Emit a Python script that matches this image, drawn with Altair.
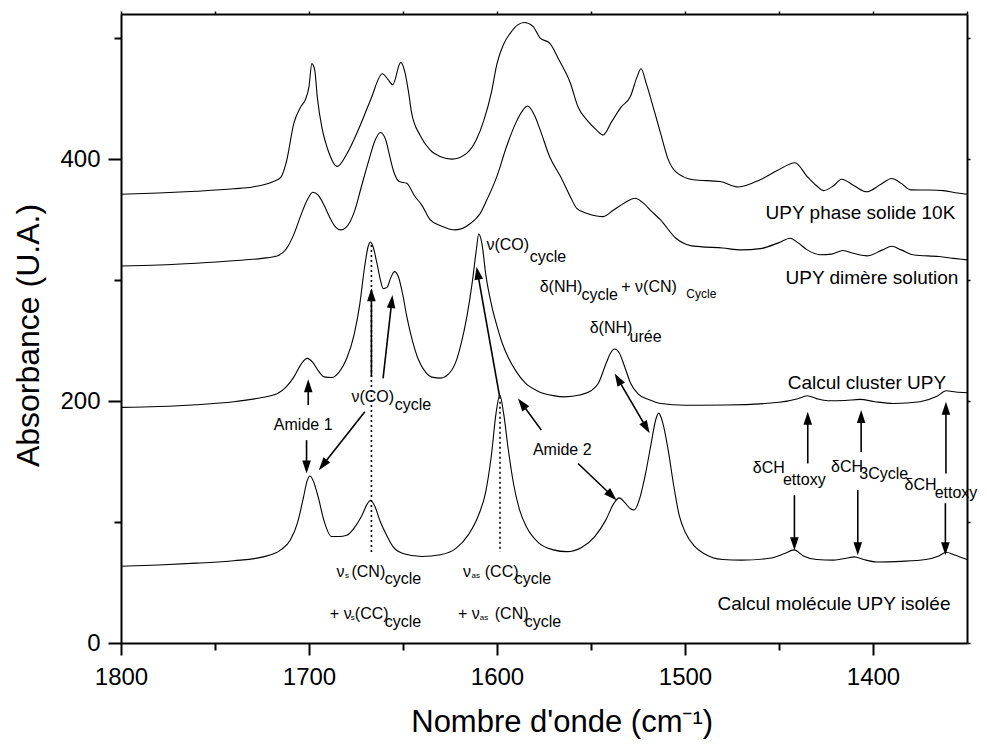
import math
import altair as alt
import pandas as pd

FONT = "Liberation Sans"
W, H = 846, 629
XMIN, XMAX, YMIN, YMAX = 1350, 1800, 0, 520
PXX = W / (XMAX - XMIN)
PXY = H / (YMAX - YMIN)

# ---------------- spectra ----------------
solid_x = [1800, 1780, 1760, 1740, 1730, 1719, 1715, 1712, 1708, 1704.5, 1702, 1700, 1698.5, 1697, 1695.5,
           1693, 1690, 1685, 1680, 1673, 1667, 1661, 1658, 1655.5, 1651.2, 1649, 1647, 1645.4, 1641, 1635.6,
           1630, 1624, 1616, 1611, 1607, 1603, 1600, 1596.5, 1593, 1589, 1585.5, 1581, 1577, 1572, 1567,
           1561, 1557, 1552, 1547, 1543.5, 1539, 1534, 1529, 1525.5, 1523.4, 1520.5, 1516, 1513, 1509, 1505,
           1495.6, 1481.4, 1471.6, 1460, 1450.4, 1441.5, 1435, 1430, 1426.4, 1421, 1416.7, 1410, 1403.4, 1396,
           1390, 1385, 1380, 1370, 1362.6, 1355, 1350]
solid_y = [371, 372, 373.5, 375.5, 377, 381.5, 385, 398, 430, 443, 449, 460, 479, 474, 450,
           425, 408, 394, 404, 427, 450, 470.6, 466, 461.5, 480, 472, 455, 438, 420, 407.6,
           402, 400, 405, 416, 432, 455, 479, 495, 504, 511, 513, 510, 500, 496, 482,
           463, 443.5, 432, 424, 420, 431, 443, 452, 468, 474.7, 462, 438, 421.5, 400, 389.7,
           383, 381.5, 377, 383, 391, 397, 385.6, 378, 374, 378, 383.4, 378, 373, 379,
           384, 380, 374.6, 374.5, 374, 372, 371]

dimer_x = [1800, 1780, 1760, 1740, 1725, 1717, 1712, 1708, 1704, 1701, 1698, 1695, 1692, 1689, 1686,
           1683, 1680, 1676, 1672, 1668, 1665, 1662, 1659, 1657, 1655, 1652, 1648, 1644, 1640, 1635.6,
           1630, 1622, 1614, 1609, 1605.5, 1600, 1595, 1590, 1586, 1583.7, 1580, 1577, 1572, 1566, 1561,
           1557.6, 1552, 1547, 1543.5, 1538, 1532, 1526.6, 1521, 1518.6, 1513, 1505, 1497, 1492, 1480, 1470,
           1460, 1450, 1444, 1440, 1435, 1428, 1422, 1416, 1410, 1403, 1395, 1390, 1385, 1378, 1365,
           1357, 1350]
dimer_y = [311.7, 312.5, 314, 316, 318, 320, 326, 338, 355, 366, 372.7, 370, 362, 352, 344,
           341.5, 344, 356, 378, 400, 415, 422, 415, 402, 390, 381.5, 380, 370, 362, 350,
           345, 341.5, 347, 355, 366, 386, 410, 430, 441, 444, 436, 424, 402, 385, 369,
           359.4, 355, 353, 352.5, 358, 364, 367.7, 362, 358, 349.8, 334.8, 328.5, 327.7, 326.5, 325,
           326, 331, 334.6, 331, 325, 321, 321.5, 324.5, 322, 320, 325, 328, 325, 320.7, 319.5,
           318, 316.7]

cluster_x = [1800, 1780, 1760, 1740, 1725, 1717, 1712, 1708, 1704, 1701, 1698, 1695, 1692, 1688, 1684,
             1680, 1676, 1673, 1670.5, 1668.5, 1667.3, 1666, 1664, 1662, 1660.5, 1658.5, 1656.5, 1654.5, 1652.5, 1650,
             1648, 1645, 1642, 1638, 1634, 1630, 1626, 1622, 1619, 1616, 1613, 1611, 1609.7, 1608, 1606,
             1603, 1600, 1597, 1594, 1590, 1585, 1578, 1570, 1564, 1556, 1550, 1546, 1542, 1539.5, 1537.5,
             1535, 1532, 1529, 1525, 1519, 1513, 1500, 1478, 1450, 1440, 1435, 1430, 1424, 1415, 1407,
             1399, 1389, 1375, 1366, 1361, 1356, 1350]
cluster_y = [194.8, 195.5, 197, 199.5, 203, 206, 212, 220, 231, 235.3, 232, 225, 220, 219.5, 224,
             235, 255, 280, 310, 328, 331.5, 328, 315, 300, 293, 294, 302, 307, 303, 287,
             270, 250, 235, 224, 219.6, 219, 222, 232, 248, 270, 300, 325, 338, 330, 305,
             280, 262, 247, 236, 225, 215, 208, 204.5, 203.5, 205, 208.5, 215, 231, 240, 243,
             240, 228, 215, 206, 201, 198, 196.5, 196.7, 199, 202, 204.4, 202, 200.3, 200.5, 201.4,
             199.5, 198, 199.5, 204, 208.5, 207.5, 206.9]

iso_x = [1800, 1780, 1760, 1740, 1725, 1715, 1710, 1706, 1703, 1701, 1699.5, 1698, 1695, 1692, 1688,
         1684, 1680, 1676, 1672, 1669, 1667.3, 1665, 1662, 1659, 1655, 1650, 1640, 1630, 1622, 1615,
         1610, 1606, 1603, 1600.5, 1598.5, 1596.5, 1594, 1591, 1588, 1584, 1578, 1570, 1563, 1555, 1548,
         1542, 1538, 1535, 1532, 1529, 1527, 1524, 1521, 1518, 1515.5, 1514, 1512, 1509, 1506, 1503,
         1500, 1495, 1490, 1480, 1470, 1455, 1447, 1442, 1437, 1430, 1421, 1413, 1410, 1405, 1398,
         1385, 1372, 1365, 1361, 1357, 1350]
iso_y = [63.5, 64.5, 66, 68, 71, 77, 85, 100, 120, 134, 138, 135, 120, 101, 88,
         88, 89, 95, 105, 115, 118, 113, 100, 90, 79, 74, 71.5, 73, 78, 90,
         105, 125, 155, 190, 205, 190, 160, 130, 110, 95, 83, 77, 75.5, 79, 88,
         102, 115, 120, 116, 111, 110, 120, 140, 165, 185, 190, 183, 160, 130, 105,
         92, 80, 74, 69, 68.5, 70, 74, 77, 72, 69, 68.5, 70.5, 71.2, 69, 67,
         67.5, 69, 72, 75, 73, 69]

series_names = ["UPY phase solide 10K", "UPY dimère solution", "Calcul cluster UPY",
                "Calcul molécule UPY isolée"]

# curve labels (right aligned)
label_text = series_names
label_x = [1356.2, 1354.6, 1361.1, 1358.8]
label_y = [355.6, 301.5, 215.1, 32.6]

# annotation text pieces (left aligned, main text and subscripts)
ann_text = ["ν(CO)", "cycle", "δ(NH)", "cycle", "+ ν(CN)", "Cycle", "δ(NH)", "urée",
            "Amide 1", "ν(CO)", "cycle", "Amide 2",
            "ν", "s", "(CN)", "cycle", "+ ν", "s", "(CC)", "cycle",
            "ν", "as", "(CC)", "cycle", "+ ν", "as", "(CN)", "cycle",
            "δCH", "ettoxy", "δCH", "3Cycle", "δCH", "ettoxy"]
ann_x = [1605.6, 1582.6, 1577.3, 1555.1, 1533.9, 1499.3, 1550.7, 1529.5,
         1718.7, 1677.4, 1654.4, 1580.9,
         1685.4, 1680.9, 1677.4, 1659.7, 1688.9, 1677.8, 1675.6, 1659.7,
         1618.1, 1613.5, 1606.5, 1590.6, 1620.7, 1609.2, 1601.2, 1585.3,
         1463.9, 1447.9, 1422.3, 1407.3, 1383.2, 1367.2]
ann_y = [329.1, 319.4, 294.6, 287.7, 294.6, 288.5, 260.2, 252.7,
         180.1, 203.6, 196.7, 159.5,
         58.75, 55.2, 58.75, 52.5, 24.3, 20.4, 24.3, 17.4,
         58.75, 55.2, 58.75, 52.5, 24.3, 20.4, 24.3, 17.4,
         144.3, 134.6, 145.6, 139.6, 130.5, 124.1]
ann_size = [16, 16, 16, 16, 16, 12, 16, 16,
            16, 16, 16, 16,
            16, 8, 16, 16, 16, 8, 16, 16,
            16, 8, 16, 16, 16, 8, 16, 16,
            16, 16, 16, 16, 16, 16]

# arrows: start -> tip (data units); double-headed flag
arr_x1 = [1700.4, 1701.3, 1670.3, 1666.8, 1660.6, 1598.6, 1576.4, 1556.9, 1537.4, 1434.7, 1441.8, 1406.3, 1408.1, 1361.2, 1361.5]
arr_y1 = [196.7, 167.7, 191.1, 220.1, 218.8, 203.6, 176.0, 148.4, 222.9, 148.4, 122.2, 158.0, 126.4, 140.2, 115.6]
arr_x2 = [1700.4, 1701.3, 1694.8, 1666.8, 1655.6, 1610.9, 1588.8, 1536.4, 1518.8, 1434.7, 1441.8, 1406.3, 1408.1, 1361.2, 1361.5]
arr_y2 = [218.0, 140.2, 142.9, 293.3, 287.7, 311.1, 202.2, 118.1, 173.3, 191.1, 76.7, 192.6, 72.6, 199.4, 72.6]
arr_double = [0, 0, 0, 0, 0, 0, 0, 0, 1, 0, 0, 0, 0, 0, 0]

# dotted vertical guides
dot_x = [1666.8, 1598.4]
dot_y1 = [329.0, 203.6]
dot_y2 = [75.3, 75.3]

# ticks
x_major = [1800, 1700, 1600, 1500, 1400]
x_minor = [1750, 1650, 1550, 1450]
x_top = [1800, 1750, 1700, 1650, 1600, 1550, 1500, 1450, 1400, 1350]
y_major = [0, 200, 400]
y_minor = [100, 300, 500]
y_right = [0, 100, 200, 300, 400, 500]

# ---------------- tables ----------------
rows = []
for name, xs_, ys_ in zip(series_names, [solid_x, dimer_x, cluster_x, iso_x], [solid_y, dimer_y, cluster_y, iso_y]):
    for a, b in zip(xs_, ys_):
        rows.append({"x": a, "y": b, "series": name})
curves_df = pd.DataFrame(rows)

HEAD_L = 13.0


def screen_dir(xa, ya, xb, yb):
    dx = -(xb - xa) * PXX
    dy = -(yb - ya) * PXY
    n = math.hypot(dx, dy)
    return dx / n, dy / n


def base_of(xt, yt, ux, uy, L):
    return xt + L * ux / PXX, yt + L * uy / PXY


shafts, heads = [], []
for x1, y1, x2, y2, d in zip(arr_x1, arr_y1, arr_x2, arr_y2, arr_double):
    ux, uy = screen_dir(x1, y1, x2, y2)
    ang = math.degrees(math.atan2(ux, -uy)) % 360
    heads.append({"x": x2, "y": y2, "angle": ang})
    ex, ey = base_of(x2, y2, ux, uy, HEAD_L * 0.8)
    sx, sy = x1, y1
    if d:
        vx, vy = -ux, -uy
        ang2 = math.degrees(math.atan2(vx, -vy)) % 360
        heads.append({"x": x1, "y": y1, "angle": ang2})
        sx, sy = base_of(x1, y1, vx, vy, HEAD_L * 0.8)
    shafts.append({"x": sx, "y": sy, "x2": ex, "y2": ey})
shaft_df = pd.DataFrame(shafts)
head_df = pd.DataFrame(heads)

dot_df = pd.DataFrame({"x": dot_x, "y": dot_y1, "y2": dot_y2})
ann_df = pd.DataFrame({"t": ann_text, "x": ann_x, "y": ann_y, "s": ann_size})
lab_df = pd.DataFrame({"t": label_text, "x": label_x, "y": label_y})

# ---------------- chart ----------------
xs = alt.Scale(domain=[XMIN, XMAX], reverse=True, nice=False, zero=False)
ys = alt.Scale(domain=[YMIN, YMAX], nice=False, zero=False)

common_axis = dict(domainColor="black", tickColor="black", labelColor="black", grid=False,
                   labelFont=FONT, titleFont=FONT, titleColor="black", titleFontWeight="normal",
                   labelFlush=False, labelOverlap=False)

x_axis_major = alt.Axis(orient="bottom", values=x_major, tickSize=12, tickWidth=2, domainWidth=2,
                        labelFontSize=24, labelPadding=10, format="d",
                        title="Nombre d'onde (cm⁻¹)", titleFontSize=31, titleX=440.7, titleY=88,
                        titleBaseline="alphabetic", titleAlign="center", **common_axis)
y_axis_major = alt.Axis(orient="left", values=y_major, tickSize=13, tickWidth=2, domainWidth=2,
                        labelFontSize=24, labelPadding=8, format="d",
                        title="Absorbance (U.A.)", titleFontSize=32, titleX=-83, titleY=321,
                        titleAngle=270, titleBaseline="alphabetic", titleAlign="center", **common_axis)
x_axis_minor = alt.Axis(orient="bottom", values=x_minor, tickSize=7, tickWidth=2, domain=False,
                        labels=False, title=None, grid=False, tickColor="black")
y_axis_minor = alt.Axis(orient="left", values=y_minor, tickSize=7, tickWidth=2, domain=False,
                        labels=False, title=None, grid=False, tickColor="black")
x_axis_top = alt.Axis(orient="top", values=x_top, tickSize=3, tickWidth=1.5, domainWidth=2,
                      domainColor="black", labels=False, title=None, grid=False, tickColor="black")
y_axis_right = alt.Axis(orient="right", values=y_right, tickSize=3, tickWidth=1.5, domainWidth=2,
                        domainColor="black", labels=False, title=None, grid=False, tickColor="black")

curves = alt.Chart(curves_df).mark_line(interpolate="monotone", color="black", strokeWidth=1.1).encode(
    x=alt.X("x:Q", scale=xs, axis=x_axis_major),
    y=alt.Y("y:Q", scale=ys, axis=y_axis_major),
    detail="series:N",
)

dotted = alt.Chart(dot_df).mark_rule(color="black", strokeWidth=1.6, strokeDash=[2, 3]).encode(
    x=alt.X("x:Q", scale=xs, axis=x_axis_minor),
    y=alt.Y("y:Q", scale=ys, axis=y_axis_minor),
    y2="y2:Q",
)

shaft_layer = alt.Chart(shaft_df).mark_rule(color="black", strokeWidth=1.6).encode(
    x=alt.X("x:Q", scale=xs, axis=x_axis_top),
    y=alt.Y("y:Q", scale=ys, axis=y_axis_right),
    x2="x2:Q",
    y2="y2:Q",
)

head_layer = alt.Chart(head_df).mark_point(
    shape="M0,0L-0.33,1L0.33,1Z", filled=True, size=(2 * HEAD_L) ** 2, color="black", opacity=1,
    strokeWidth=0,
).encode(
    x=alt.X("x:Q", scale=xs, axis=None),
    y=alt.Y("y:Q", scale=ys, axis=None),
    angle=alt.Angle("angle:Q", scale=None),
)

ann_layer = alt.Chart(ann_df).mark_text(align="left", baseline="middle", font=FONT, color="black").encode(
    x=alt.X("x:Q", scale=xs, axis=None),
    y=alt.Y("y:Q", scale=ys, axis=None),
    text="t:N",
    size=alt.Size("s:Q", scale=None),
)

lab_layer = alt.Chart(lab_df).mark_text(align="right", baseline="middle", font=FONT, color="black",
                                        fontSize=19).encode(
    x=alt.X("x:Q", scale=xs, axis=None),
    y=alt.Y("y:Q", scale=ys, axis=None),
    text="t:N",
)

chart = alt.layer(curves, dotted, shaft_layer, head_layer, ann_layer, lab_layer).resolve_axis(
    x="independent", y="independent"
).properties(
    width=W, height=H,
    autosize=alt.AutoSizeParams(type="none"),
    padding={"left": 113, "top": 6, "right": 12, "bottom": 98},
).configure_view(stroke=None)

chart.save("out.html", embed_options={"renderer": "svg", "actions": False})
